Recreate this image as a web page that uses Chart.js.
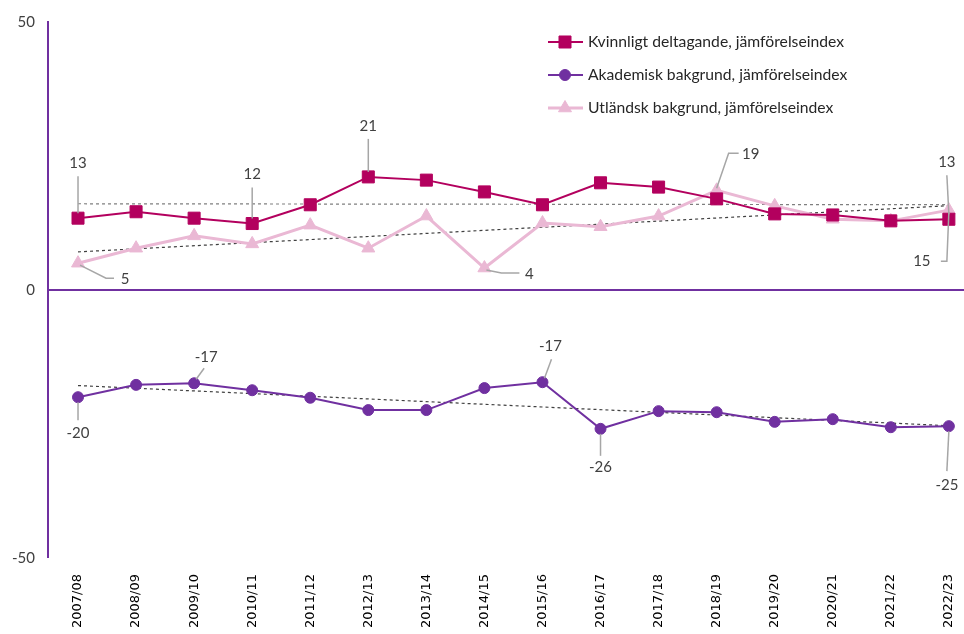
<!DOCTYPE html>
<html>
<head>
<meta charset="utf-8">
<script src="https://cdn.jsdelivr.net/npm/chart.js@4.4.1/dist/chart.umd.min.js"></script>
<style>
  html, body { margin: 0; padding: 0; background: #fff; }
  #wrap { width: 964px; height: 634px; }
</style>
</head>
<body>
<div id="wrap"><canvas id="chart" width="964" height="634"></canvas></div>
<script>
// data
const categories = ['2007/08', '2008/09', '2009/10', '2010/11', '2011/12', '2012/13', '2013/14', '2014/15',
                    '2015/16', '2016/17', '2017/18', '2018/19', '2019/20', '2020/21', '2021/22', '2022/23']
const kvinnligt = [13.4, 14.6, 13.4, 12.4, 15.9, 21.1, 20.5, 18.3, 15.9, 20.0, 19.2, 17.0, 14.2, 14.0, 12.9, 13.2]
const akademisk = [-20.0, -17.7, -17.4, -18.7, -20.1, -22.4, -22.4, -18.3, -17.2, -25.9, -22.6, -22.8, -24.6, -24.1, -25.6, -25.4]
const utlandsk = [5.0, 7.8, 10.1, 8.6, 12.1, 7.8, 13.8, 4.1, 12.5, 11.8, 13.8, 18.6, 15.7, 13.2, 12.9, 14.9]
const seriesNames = ['Kvinnligt deltagande, jämförelseindex', 'Akademisk bakgrund, jämförelseindex', 'Utländsk bakgrund, jämförelseindex']
const yTicks = [-50, 0, 50]

const colKvinn = '#B3005E'
const colAkad = '#7030A0'
const colUtl = '#EAB8D4'
const labelFont = '15px Lato, "Open Sans", sans-serif'
const legendFont = '15.7px Lato, "Open Sans", sans-serif'

function points(values) {
    return values.map((v, i) => ({ x: i, y: v }))
}

// linear trend line (like excel's trendline)
function trend(values) {
    var n = values.length, sx = 0, sy = 0, sxy = 0, sxx = 0
    for (let i = 0; i < n; i++) {
        sx += i; sy += values[i]; sxy += i * values[i]; sxx += i * i
    }
    var b = (n * sxy - sx * sy) / (n * sxx - sx * sx)
    var a = (sy - b * sx) / n
    return [{ x: 0, y: a }, { x: n - 1, y: a + b * (n - 1) }]
}

// labelled points: dataset, index, label offset, leader line offsets (relative to point)
const callouts = [
    { ds: 0, i: 0, lx: 0, ly: -55, line: [[0, -42], [0, -5]] },
    { ds: 0, i: 3, lx: 0, ly: -49, line: [[0, -36], [0, -5]] },
    { ds: 0, i: 5, lx: 0, ly: -51, line: [[0, -38], [0, -5]] },
    { ds: 0, i: 15, lx: -2, ly: -57, line: [[-2, -44], [0, -5]] },
    { ds: 2, i: 0, lx: 47, ly: 16, line: [[2, 2], [28, 15], [36, 15]] },
    { ds: 2, i: 7, lx: 45, ly: 6, line: [[2, 2], [17, 5], [35, 5]] },
    { ds: 2, i: 11, lx: 34, ly: -36, line: [[0, -2], [12, -37], [22, -37]] },
    { ds: 2, i: 15, lx: -27, ly: 51, line: [[0, 2], [-2, 51], [-8, 51]] },
    { ds: 1, i: 0, lx: 0, ly: 36, line: [[0, 5], [0, 23]] },
    { ds: 1, i: 2, lx: 12, ly: -26, line: [[2, -4], [10, -15]] },
    { ds: 1, i: 8, lx: 8, ly: -36, line: [[2, -4], [9, -23]] },
    { ds: 1, i: 9, lx: 0, ly: 38, line: [[0, 5], [0, 27]] },
    { ds: 1, i: 15, lx: -2, ly: 59, line: [[0, 5], [-2, 45]] }
]

const calloutPlugin = {
    id: 'callouts',
    beforeDatasetsDraw(chart) {
        // zero line runs on to the edge of the picture
        const ctx = chart.ctx
        const y0 = chart.scales.y.getPixelForValue(0)
        ctx.save()
        ctx.strokeStyle = colAkad
        ctx.lineWidth = 2
        ctx.beginPath()
        ctx.moveTo(chart.chartArea.right - 1, y0)
        ctx.lineTo(chart.width, y0)
        ctx.stroke()
        ctx.restore()
    },
    afterDatasetsDraw(chart) {
        const ctx = chart.ctx
        ctx.save()
        callouts.forEach(c => {
            const el = chart.getDatasetMeta(c.ds).data[c.i]
            const val = chart.data.datasets[c.ds].data[c.i].y
            ctx.strokeStyle = '#A6A6A6'
            ctx.lineWidth = 1.5
            ctx.beginPath()
            c.line.forEach((p, k) => {
                if (k == 0) ctx.moveTo(el.x + p[0], el.y + p[1])
                else ctx.lineTo(el.x + p[0], el.y + p[1])
            })
            ctx.stroke()
            ctx.fillStyle = '#404040'
            ctx.font = labelFont
            ctx.textAlign = 'center'
            ctx.textBaseline = 'middle'
            ctx.fillText(String(Math.round(val)), el.x + c.lx, el.y + c.ly)
        })
        ctx.restore()
    }
}

// legend box top right
const legendPlugin = {
    id: 'myLegend',
    afterDraw(chart) {
        const ctx = chart.ctx
        const styles = [['rect', colKvinn, 8.5], ['circle', colAkad, 5.5], ['triangle', colUtl, 7.5]]
        ctx.save()
        styles.forEach((s, k) => {
            const y = 42 + k * 33
            ctx.strokeStyle = s[1]
            ctx.lineWidth = k == 2 ? 3 : 2
            ctx.beginPath()
            ctx.moveTo(548, y)
            ctx.lineTo(583, y)
            ctx.stroke()
            ctx.fillStyle = s[1]
            ctx.lineWidth = 1
            Chart.helpers.drawPoint(ctx, { pointStyle: s[0], radius: s[2], borderWidth: 1 }, 565, y)
            ctx.fillStyle = '#262626'
            ctx.font = legendFont
            ctx.textAlign = 'left'
            ctx.textBaseline = 'middle'
            ctx.fillText(seriesNames[k], 588, y)
        })
        ctx.restore()
    }
}

function lineSet(label, values, color, style, radius, width) {
    return {
        label: label,
        data: points(values),
        borderColor: color,
        backgroundColor: color,
        borderWidth: width,
        pointStyle: style,
        pointRadius: radius,
        pointBorderWidth: 1,
        pointBorderColor: color,
        pointBackgroundColor: color,
        tension: 0,
        clip: false
    }
}

function trendSet(values, color) {
    return {
        data: trend(values),
        borderColor: color,
        borderWidth: 1.2,
        borderDash: [3, 3],
        pointRadius: 0,
        order: 5
    }
}

const ctx = document.getElementById('chart').getContext('2d')
new Chart(ctx, {
    type: 'line',
    data: {
        datasets: [
            lineSet(seriesNames[0], kvinnligt, colKvinn, 'rect', 8.5, 2),
            lineSet(seriesNames[1], akademisk, colAkad, 'circle', 5.5, 2),
            lineSet(seriesNames[2], utlandsk, colUtl, 'triangle', 7.5, 3),
            trendSet(kvinnligt, '#7F7F7F'),
            trendSet(akademisk, '#404040'),
            trendSet(utlandsk, '#404040')
        ]
    },
    options: {
        responsive: false,
        animation: false,
        layout: { padding: { top: 21, right: 0, bottom: 0, left: 0 } },
        plugins: {
            legend: { display: false },
            tooltip: { enabled: false }
        },
        scales: {
            x: {
                type: 'linear',
                min: -0.517,
                max: 15.097,
                afterBuildTicks: scale => { scale.ticks = categories.map((c, i) => ({ value: i })) },
                afterFit: scale => {
                    scale.height = 76
                    scale.paddingRight = 0
                    scale.paddingLeft = 0
                },
                grid: { display: false, drawTicks: false },
                border: { display: false },
                ticks: {
                    autoSkip: false,
                    minRotation: 90,
                    maxRotation: 90,
                    padding: 16,
                    color: '#000',
                    font: { family: '"DejaVu Sans"', size: 13 },
                    callback: v => categories[v]
                }
            },
            y: {
                min: -50,
                max: 50,
                afterBuildTicks: scale => { scale.ticks = yTicks.map(v => ({ value: v })) },
                afterFit: scale => { scale.width = 48 },
                border: { display: true, color: colAkad, width: 2 },
                grid: {
                    drawTicks: false,
                    color: c => c.tick.value == 0 ? colAkad : 'rgba(0,0,0,0)',
                    lineWidth: c => c.tick.value == 0 ? 2 : 0
                },
                ticks: {
                    padding: 13,
                    color: '#404040',
                    font: { family: 'Lato, "Open Sans", sans-serif', size: 15 }
                }
            }
        }
    },
    plugins: [calloutPlugin, legendPlugin]
})
</script>
</body>
</html>
